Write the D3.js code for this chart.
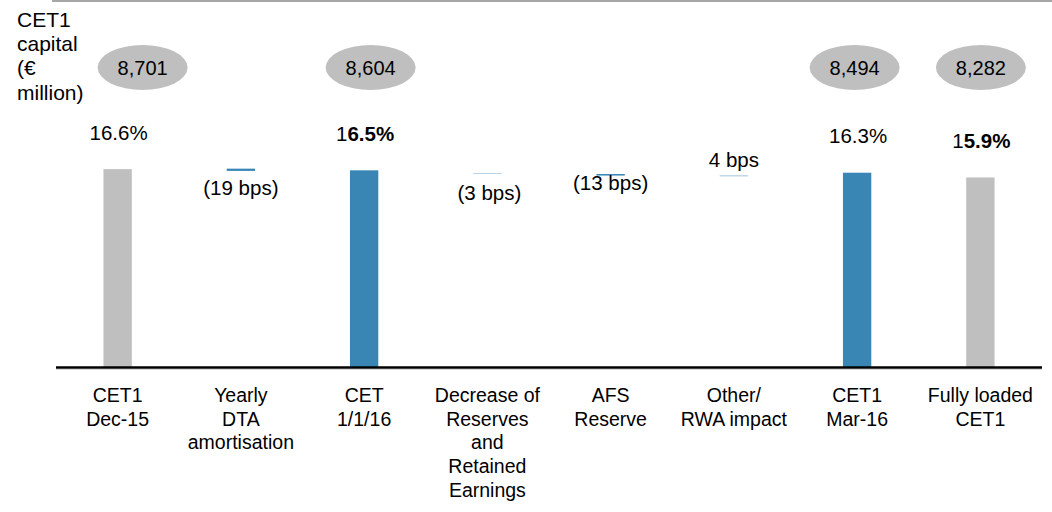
<!DOCTYPE html>
<html>
<head>
<meta charset="utf-8">
<script src="https://cdn.jsdelivr.net/npm/d3@7"></script>
<style>
  html, body { margin: 0; padding: 0; background: #fff; }
  svg { display: block; font-family: "Liberation Sans", Arial, sans-serif; }
</style>
</head>
<body>
<svg id="chart" width="1052" height="512"></svg>
<script>
// Category labels (one entry per line of text)
const categories = [
  ["CET1", "Dec-15"],
  ["Yearly", "DTA", "amortisation"],
  ["CET", "1/1/16"],
  ["Decrease of", "Reserves", "and", "Retained", "Earnings"],
  ["AFS", "Reserve"],
  ["Other/", "RWA impact"],
  ["CET1", "Mar-16"],
  ["Fully loaded", "CET1"]
];

// Total columns: position, CET1 ratio (%), CET1 capital (€ million)
const totalIndex   = [0, 2, 6, 7];
const totalRatio   = [16.6, 16.5, 16.3, 15.9];
const totalCapital = [8701, 8604, 8494, 8282];
const totalBlue    = [false, true, true, false];
const totalBold    = [false, true, false, true];

// Movement columns: position, change (bps) and the level each change starts from (%)
const stepIndex = [1, 3, 4, 5];
const stepBps   = [-19, -3, -13, 4];
const stepFrom  = [16.64, 16.27, 16.19, 16.01];

// Title lines
const titleLines = ["CET1", "capital", "(€", "million)"];

const GREY = "#bfbfbf";
const BLUE = "#3986b5";
const FONT = 20;

const svg = d3.select("#chart");

const x = d3.scaleBand()
  .domain(d3.range(categories.length))
  .range([56, 1042])
  .paddingInner(0.77)
  .paddingOuter(0.385);

const y = d3.scaleLinear().domain([0, 17]).range([367, 367 - 17 * 11.92]);

// top rule
svg.append("line")
  .attr("x1", 52).attr("x2", 1052).attr("y1", 1).attr("y2", 1)
  .attr("stroke", "#a6a6a6").attr("stroke-width", 2);

// title
svg.append("g").selectAll("text").data(titleLines).join("text")
  .attr("x", 17)
  .attr("y", (d, i) => 27 + i * 24.2)
  .attr("font-size", 21)
  .attr("fill", "#000")
  .text(d => d);

const totals = totalIndex.map((idx, i) => ({
  idx, ratio: totalRatio[i], capital: totalCapital[i], blue: totalBlue[i], bold: totalBold[i]
}));
const steps = stepIndex.map((idx, i) => ({
  idx, bps: stepBps[i], from: stepFrom[i], to: stepFrom[i] + stepBps[i] / 100
}));

// capital bubbles (slight horizontal nudges keep the first two clear of the title)
const bubbleShift = { 0: 25, 2: 6.5, 6: -2.5, 7: 0.5 };
const bubbles = svg.append("g").selectAll("g").data(totals).join("g")
  .attr("transform", d => `translate(${x(d.idx) + x.bandwidth() / 2 + bubbleShift[d.idx]},67.5)`);
bubbles.append("ellipse").attr("rx", 45).attr("ry", 22.5).attr("fill", GREY);
bubbles.append("text")
  .attr("text-anchor", "middle").attr("y", 7.3)
  .attr("font-size", FONT).attr("fill", "#000")
  .text(d => d3.format(",")(d.capital));

// total bars
svg.append("g").selectAll("rect").data(totals).join("rect")
  .attr("x", d => x(d.idx))
  .attr("width", x.bandwidth())
  .attr("y", d => y(d.ratio))
  .attr("height", d => y(0) - y(d.ratio))
  .attr("fill", d => d.blue ? BLUE : GREY);

// ratio labels above total bars
const ratioLabels = svg.append("g").selectAll("text").data(totals).join("text")
  .attr("x", d => x(d.idx) + x.bandwidth() / 2 + 1)
  .attr("y", d => y(d.ratio) - 29.5)
  .attr("text-anchor", "middle")
  .attr("font-size", 20.5)
  .attr("fill", "#000");
ratioLabels.each(function (d) {
  const s = d3.format(".1f")(d.ratio) + "%";
  const t = d3.select(this);
  if (d.bold) {
    t.append("tspan").text(s.slice(0, 1));
    t.append("tspan").attr("font-weight", "bold").text(s.slice(1));
  } else {
    t.text(s);
  }
});

// movement bars
svg.append("g").selectAll("rect").data(steps).join("rect")
  .attr("x", d => x(d.idx))
  .attr("width", x.bandwidth())
  .attr("y", d => y(Math.max(d.from, d.to)))
  .attr("height", d => Math.abs(y(d.from) - y(d.to)))
  .attr("fill", BLUE);

// movement labels: negatives below, positives above
const stepLabelGap = { 1: 23.6, 3: 26.6, 4: 14.7, 5: 9 };
svg.append("g").selectAll("text").data(steps).join("text")
  .attr("x", d => x(d.idx) + x.bandwidth() / 2 + (d.idx === 3 ? 2 : 0))
  .attr("y", d => d.bps < 0
    ? y(Math.min(d.from, d.to)) + stepLabelGap[d.idx]
    : y(Math.max(d.from, d.to)) - stepLabelGap[d.idx])
  .attr("text-anchor", "middle")
  .attr("font-size", 20.5)
  .attr("fill", "#000")
  .text(d => d.bps < 0 ? `(${Math.abs(d.bps)} bps)` : `${d.bps} bps`);

// baseline with a faint shadow
svg.append("line")
  .attr("x1", 56).attr("x2", 1042).attr("y1", y(0) + 2.5).attr("y2", y(0) + 2.5)
  .attr("stroke", "#d9d9d9").attr("stroke-width", 1);
svg.append("line")
  .attr("x1", 56).attr("x2", 1042).attr("y1", y(0) + 0.5).attr("y2", y(0) + 0.5)
  .attr("stroke", "#000").attr("stroke-width", 2.6);

// category labels
const cats = svg.append("g").selectAll("text").data(categories).join("text")
  .attr("text-anchor", "middle")
  .attr("font-size", 19.5)
  .attr("fill", "#000");
cats.each(function (lines, i) {
  d3.select(this).selectAll("tspan").data(lines).join("tspan")
    .attr("x", x(i) + x.bandwidth() / 2)
    .attr("y", (d, j) => 401.7 + j * 23.8)
    .text(d => d);
});
</script>
</body>
</html>
